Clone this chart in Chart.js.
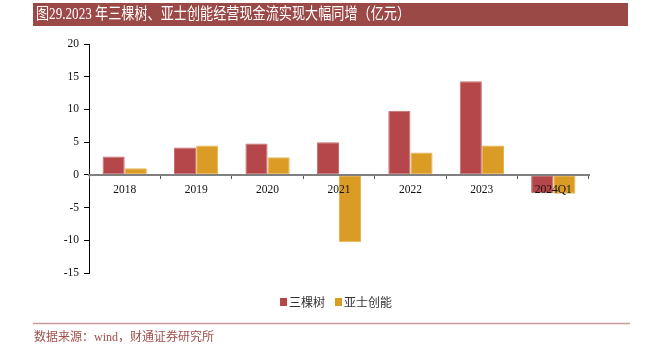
<!DOCTYPE html>
<html>
<head>
<meta charset="utf-8">
<script src="https://cdn.jsdelivr.net/npm/chart.js@4"></script>
<style>
  html, body { margin: 0; padding: 0; background: #fff; }
  #wrap { width: 649px; height: 353px; }
</style>
</head>
<body>
<div id="wrap"><canvas id="c" width="649" height="353"></canvas></div>
<script>
// 数据
const categories = ['2018', '2019', '2020', '2021', '2022', '2023', '2024Q1'];
const sankeshu = [2.8, 4.2, 4.8, 5.0, 9.8, 14.3, -2.8];
const yashi = [1.0, 4.5, 2.7, -10.3, 3.4, 4.5, -2.9];
const seriesNames = ['三棵树', '亚士创能'];
const yTicks = [-15, -10, -5, 0, 5, 10, 15, 20];

const titleText = '图29.2023 年三棵树、亚士创能经营现金流实现大幅同增（亿元）';
const sourceText = '数据来源：wind，财通证券研究所';

const RED = '#B5474A';
const ORANGE = '#DA9C25';

// 标题栏、图例、底部来源
const decor = {
  id: 'decor',
  afterDraw(chart) {
    const ctx = chart.ctx;
    ctx.save();
    // 标题栏
    ctx.fillStyle = '#9B4946';
    ctx.fillRect(33, 3, 595, 23);
    ctx.save();
    ctx.fillStyle = '#fff';
    ctx.font = '16px "Liberation Serif", "Noto Sans CJK SC", serif';
    ctx.textBaseline = 'middle';
    ctx.translate(36, 15);
    ctx.scale(374 / ctx.measureText(titleText).width, 1);
    ctx.fillText(titleText, 0, 0);
    ctx.restore();

    // 图例
    ctx.font = '12px "Noto Sans CJK SC", sans-serif';
    ctx.textBaseline = 'middle';
    let x = 280;
    const y = 302;
    chart.data.datasets.forEach(function(ds) {
      ctx.fillStyle = ds.backgroundColor;
      ctx.fillRect(x, y - 4, 7, 8);
      x += 9;
      ctx.fillStyle = '#333';
      ctx.fillText(ds.label, x, y);
      x += ctx.measureText(ds.label).width + 10;
    });

    // 底部分割线与来源
    ctx.strokeStyle = '#C99A98';
    ctx.lineWidth = 1.5;
    ctx.beginPath();
    ctx.moveTo(33, 323.5);
    ctx.lineTo(630, 323.5);
    ctx.stroke();
    ctx.fillStyle = '#A0504D';
    ctx.font = '12px "Liberation Serif", "Noto Sans CJK SC", serif';
    ctx.fillText(sourceText, 34, 338);
    ctx.restore();
  }
};

new Chart(document.getElementById('c').getContext('2d'), {
  type: 'bar',
  data: {
    labels: categories,
    datasets: [{
      label: seriesNames[0],
      data: sankeshu,
      backgroundColor: RED,
      borderColor: '#C66A6A',
      borderWidth: 1,
      borderSkipped: false,
      borderRadius: 1,
      categoryPercentage: 0.62,
      barPercentage: 1.0
    }, {
      label: seriesNames[1],
      data: yashi,
      backgroundColor: ORANGE,
      borderColor: '#E6B14E',
      borderWidth: 1,
      borderSkipped: false,
      borderRadius: 1,
      categoryPercentage: 0.62,
      barPercentage: 1.0
    }]
  },
  options: {
    responsive: false,
    animation: false,
    layout: { padding: { left: 0, right: 60, top: 44, bottom: 80 } },
    plugins: {
      legend: { display: false },
      tooltip: { enabled: false }
    },
    scales: {
      x: {
        position: { y: 0 },
        offset: true,
        grid: {
          drawOnChartArea: false,
          offset: true,
          tickLength: 3,
          color: '#555',
          z: 1
        },
        border: { color: '#808080', width: 2, z: 1 },
        ticks: {
          z: 1,
          color: '#111',
          padding: 5,
          font: { family: '"Liberation Serif", serif', size: 11.5 }
        }
      },
      y: {
        min: -15,
        max: 20,
        afterBuildTicks(scale) {
          scale.ticks = yTicks.map(function(v) { return { value: v }; });
        },
        afterFit(scale) { scale.width = 89; },
        grid: {
          drawOnChartArea: false,
          tickLength: 5,
          color: '#000'
        },
        border: { color: '#000', width: 1 },
        ticks: {
          color: '#111',
          padding: 5,
          font: { family: '"Liberation Serif", serif', size: 11.5 }
        }
      }
    }
  },
  plugins: [decor]
});
</script>
</body>
</html>
